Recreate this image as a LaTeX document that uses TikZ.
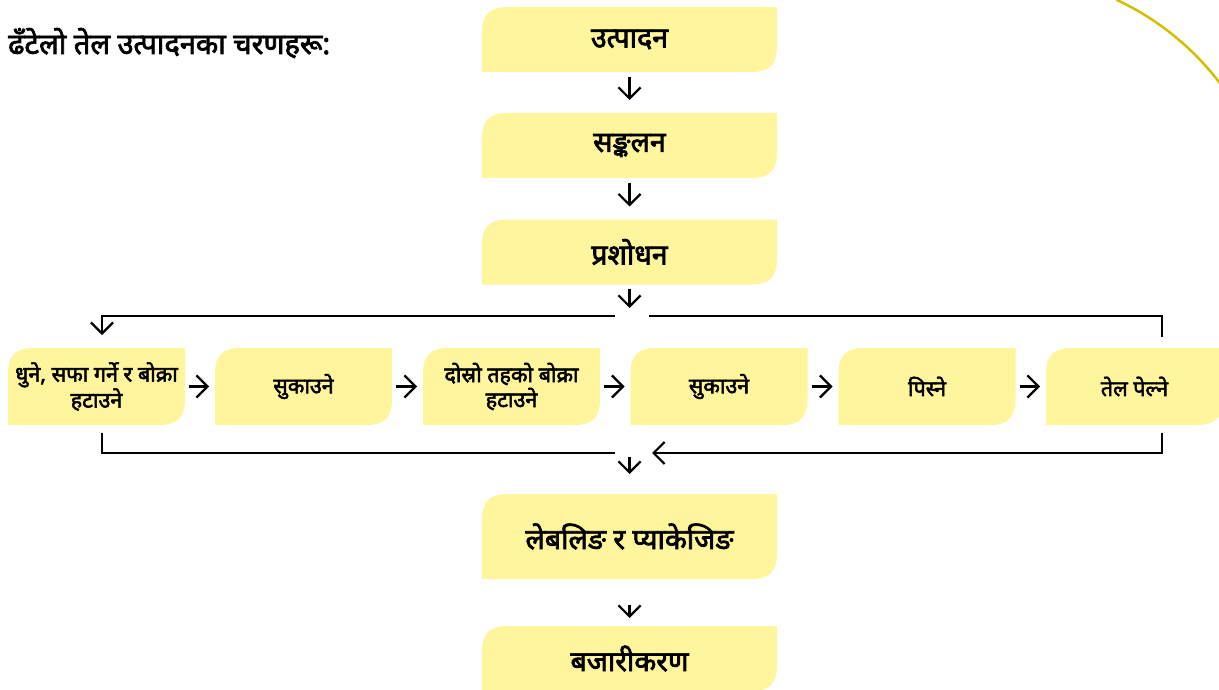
\documentclass[tikz,border=0pt]{standalone}
\usepackage{fontspec}
\newfontfamily\dev[Script=Devanagari, FakeBold=2.5]{Noto Sans}
\usetikzlibrary{arrows.meta,backgrounds}
\definecolor{yel}{RGB}{255,245,157}
\definecolor{gold}{RGB}{212,190,0}
\newcommand\leafshape[1]{%
  \fill[yel] (#1.south west) -- ([yshift=-26pt]#1.north west)
    to[out=90,in=180,looseness=1.3] ([xshift=26pt]#1.north west)
    -- (#1.north east) -- ([yshift=26pt]#1.south east)
    to[out=-90,in=0,looseness=1.3] ([xshift=-26pt]#1.south east) -- cycle;}
\begin{document}
\begin{tikzpicture}[x=1pt,y=-1pt,
  mainbox/.style={outer sep=0pt, minimum width=295pt, minimum height=65pt, inner sep=0pt, align=center, font=\dev\fontsize{28.5}{32}\selectfont},
  rowbox/.style={outer sep=0pt, minimum width=177pt, minimum height=77pt, inner sep=0pt, align=center, font=\dev\fontsize{21.5}{25}\selectfont},
  ln/.style={line width=2.2pt},
  arr/.style={line width=2.2pt, -{Straight Barb[length=11pt,width=22pt]}}]
\useasboundingbox (0,0) rectangle (1219,690);

\node[anchor=base west, inner sep=0pt, font=\dev\fontsize{29}{33}\selectfont] (title) at (8,54) {ढँटेलो तेल उत्पादनका चरणहरू:};

\node[mainbox] (b1) at (629.5,39.5) {\raisebox{-2pt}{उत्पादन}};
\node[mainbox] (b2) at (629.5,145.5) {\raisebox{-2pt}{सङ्कलन}};
\node[mainbox] (b3) at (629.5,252) {\raisebox{-2pt}{प्रशोधन}};
\node[mainbox, minimum height=85pt] (b4) at (629.5,536.5) {\raisebox{-2pt}{लेबलिङ र प्याकेजिङ}};
\node[mainbox] (b5) at (629.5,658.5) {\raisebox{-2pt}{बजारीकरण}};

\node[rowbox] (r1) at (96.5,386.5) {धुने, सफा गर्ने र बोक्रा\\हटाउने};
\node[rowbox] (r2) at (303.5,386.5) {सुकाउने};
\node[rowbox] (r3) at (511.5,386.5) {दोस्रो तहको बोक्रा\\हटाउने};
\node[rowbox] (r4) at (719,386.5) {सुकाउने};
\node[rowbox] (r5) at (927,386.5) {पिस्ने};
\node[rowbox] (r6) at (1134.5,386.5) {तेल पेल्ने};

\begin{pgfonlayer}{background}
\foreach \n in {b1,b2,b3,b4,b5,r1,r2,r3,r4,r5,r6}{\leafshape{\n}}
\end{pgfonlayer}

\draw[arr, shorten <=5pt, shorten >=13pt] (b1) -- (b2);
\draw[arr, shorten <=5pt, shorten >=13pt] (b2) -- (b3);

\foreach \a/\b in {r1/r2,r2/r3,r3/r4,r4/r5,r5/r6}
  \draw[arr, shorten <=4pt, shorten >=6pt] (\a) -- (\b);

\coordinate (tj) at (629.5,316);
\coordinate (tL) at (615,316);
\coordinate (tR) at (649,316);
\coordinate (lx) at (102,316);
\coordinate (rx) at (1162,316);
\coordinate (bj) at (629.5,453);
\coordinate (bL) at (615,453);
\coordinate (bR) at (652,453);
\coordinate (bl) at (102,453);
\coordinate (br) at (1162,453);

\draw[arr, shorten <=4pt, shorten >=8pt] (b3) -- (tj);
\draw[arr, shorten >=13pt] (tL) -- (lx) -- (lx |- r1.north);
\draw[ln, shorten >=11pt] (tR) -- (rx) -- (rx |- r6.north);
\draw[ln, shorten <=8pt] (bl |- r1.south) -- (bl) -- (bL);
\draw[arr, shorten <=8pt] (br |- r6.south) -- (br) -- (bR);
\draw[arr, shorten <=4pt, shorten >=20pt] (bj) -- (b4);
\draw[arr, shorten <=26pt, shorten >=8pt] (b4) -- (b5);

\draw[gold, line width=2.5pt, shift={(1000,250)}, x=1pt, y=1pt] (65:276) arc[start angle=65, end angle=20, radius=276];
\end{tikzpicture}
\end{document}
